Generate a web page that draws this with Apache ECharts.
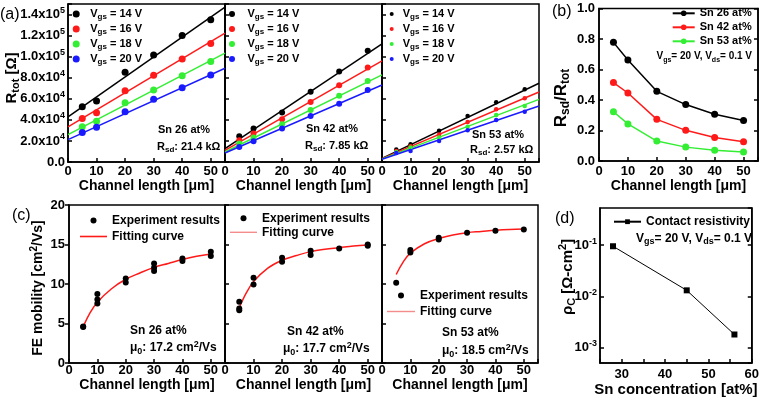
<!DOCTYPE html>
<html><head><meta charset="utf-8">
<script src="https://cdn.jsdelivr.net/npm/echarts@6/dist/echarts.min.js"></script>
<style>html,body{margin:0;padding:0;background:#fff}#c{width:762px;height:404px}</style>
</head><body><div id="c"></div>
<script>
// ---------- data ----------
const channelL = [5, 10, 20, 30, 40, 50];
const vgsNames = ['Vgs = 14 V', 'Vgs = 16 V', 'Vgs = 18 V', 'Vgs = 20 V'];
// (a) R_tot [Ohm]
const rSn26_14 = [52500, 57900, 85200, 101700, 120200, 135100];
const rSn26_16 = [41300, 46700, 67700, 82400, 97900, 112600];
const rSn26_18 = [33400, 38800, 56300, 68400, 82000, 95400];
const rSn26_20 = [28000, 33100, 47700, 59500, 70600, 82700];
const rSn42_14 = [24500, 31800, 47100, 66800, 85800, 105600];
const rSn42_16 = [20700, 27000, 40700, 56900, 72800, 89700];
const rSn42_18 = [17500, 23200, 35900, 49300, 63000, 77000];
const rSn42_20 = [14300, 19700, 31800, 43600, 55300, 68400];
const rSn53_14 = [11800, 16900, 29600, 43600, 56700, 69100];
const rSn53_16 = [10500, 15000, 26100, 37900, 50000, 60500];
const rSn53_18 = [9500, 13700, 23300, 33400, 44600, 53200];
const rSn53_20 = [8600, 10500, 20000, 30200, 39800, 47700];
// linear fits, values at L = 0 and L = 55
const fitEndL = [0, 55];
const fitSn26_14 = [42900, 147000];
const fitSn26_16 = [33400, 122400];
const fitSn26_18 = [26000, 103300];
const fitSn26_20 = [21300, 89000];
const fitSn42_14 = [12700, 112200];
const fitSn42_16 = [11100, 96000];
const fitSn42_18 = [9500, 82700];
const fitSn42_20 = [8600, 73100];
const fitSn53_14 = [3500, 74800];
const fitSn53_16 = [3200, 66500];
const fitSn53_18 = [3000, 59500];
const fitSn53_20 = [2600, 53200];
// (b) Rsd/Rtot
const snNames = ['Sn 26 at%', 'Sn 42 at%', 'Sn 53 at%'];
const ratioSn26 = [0.778, 0.662, 0.457, 0.370, 0.307, 0.266];
const ratioSn42 = [0.514, 0.446, 0.273, 0.201, 0.154, 0.127];
const ratioSn53 = [0.323, 0.243, 0.131, 0.091, 0.070, 0.059];
// (c) FE mobility
const mobL26 = [5, 5, 10, 10, 10, 20, 20, 30, 30, 30, 40, 40, 50, 50];
const mob26 = [4.57, 4.62, 8.75, 8.03, 7.53, 10.7, 10.19, 12.6, 12.05, 11.63, 13.23, 12.9, 14.08, 13.53];
const mobL42 = [5, 5, 5, 10, 10, 20, 20, 30, 30, 40, 50, 50];
const mob42 = [7.74, 6.89, 6.68, 10.78, 9.94, 13.32, 12.81, 14.2, 13.66, 14.5, 15.0, 14.84];
const mobL53 = [5, 10, 10, 20, 20, 30, 40, 50];
const mob53 = [10.15, 14.29, 14.0, 15.86, 15.64, 16.49, 16.74, 16.91];
const curveL = [5, 7.5, 10, 15, 20, 25, 30, 35, 40, 45, 50];
const curve26 = [4.6, 6.4, 7.7, 9.4, 10.6, 11.4, 12.1, 12.6, 13.1, 13.5, 13.8];
const curve42 = [7.0, 8.9, 10.3, 12.0, 13.0, 13.6, 14.1, 14.4, 14.6, 14.8, 14.95];
const curve53 = [11.2, 12.8, 13.9, 15.1, 15.75, 16.2, 16.5, 16.65, 16.8, 16.9, 16.95];
// (d) contact resistivity
const snConc = [28, 45, 56];
const rhoC = [0.095, 0.0131, 0.0018];

// ---------- styling helpers ----------
const FONT = "'Liberation Sans', Arial, Helvetica, sans-serif";
const BLACK = '#000';
const vColors = ['#000000', '#ff1a1a', '#33ee33', '#1a1aff'];
const snColors = ['#000000', '#ff1a1a', '#33ee33'];
function rich(base) {
  const s = Math.round(base * 0.72);
  return {
    sub: {fontFamily: FONT, fontWeight: 'bold', fontSize: s, lineHeight: s, verticalAlign: 'bottom', color: BLACK, fill: BLACK},
    sup: {fontFamily: FONT, fontWeight: 'bold', fontSize: s, lineHeight: s, verticalAlign: 'top', color: BLACK, fill: BLACK}
  };
}
const grids = [
  {left: 68, top: 4, width: 157, height: 158},
  {left: 225, top: 4, width: 157, height: 158},
  {left: 382, top: 4, width: 157, height: 158},
  {left: 599, top: 3, width: 159, height: 158},
  {left: 69, top: 205, width: 156, height: 158},
  {left: 225, top: 205, width: 157, height: 158},
  {left: 382, top: 205, width: 156, height: 158},
  {left: 600, top: 208, width: 157, height: 155}
].map(g => Object.assign({show: true, borderColor: BLACK, borderWidth: 1.5, backgroundColor: 'transparent'}, g));

const lineCommon = {color: BLACK, width: 1.5};
function xLabel(margin) {
  return {show: true, color: BLACK, fontFamily: FONT, fontWeight: 'bold', fontSize: 13, margin: margin,
    formatter: v => (v % 10 === 0 ? String(v) : '')};
}
function xAx(gi, o) {
  return Object.assign({
    type: 'value', gridIndex: gi, min: 0, max: 55, interval: 10,
    axisLine: {show: true, onZero: false, lineStyle: lineCommon},
    axisTick: {show: true, inside: true, length: 4, lineStyle: lineCommon},
    axisLabel: xLabel(3),
    splitLine: {show: false},
    name: 'Channel length [μm]', nameLocation: 'middle', nameGap: 16,
    nameTextStyle: {color: BLACK, fontFamily: FONT, fontWeight: 'bold', fontSize: 14}
  }, o);
}
function yAx(gi, o, lbl) {
  return Object.assign({
    type: 'value', gridIndex: gi,
    axisLine: {show: true, onZero: false, lineStyle: lineCommon},
    axisTick: {show: true, inside: true, length: 4, lineStyle: lineCommon},
    axisLabel: Object.assign({show: true, color: BLACK, fontFamily: FONT, fontWeight: 'bold', fontSize: 13, margin: 3,
      lineHeight: 17, rich: rich(13)}, lbl || {}),
    splitLine: {show: false}
  }, o);
}
const fmtA = v => {
  if (v === 0) return '0.0';
  if (v % 20000 !== 0) return '';
  const e = Math.floor(Math.log10(v) + 1e-9);
  return (v / Math.pow(10, e)).toFixed(1) + 'x10{sup|' + e + '}';
};
const xAxes = [
  xAx(0), xAx(1), xAx(2),
  xAx(3, {axisLabel: xLabel(4), nameGap: 17}),
  xAx(4, {axisLabel: xLabel(1), nameGap: 15}),
  xAx(5, {axisLabel: xLabel(1), nameGap: 15}),
  xAx(6, {axisLabel: xLabel(1), nameGap: 15}),
  xAx(7, {min: 25, max: 60, interval: 5, name: 'Sn concentration [at%]', nameGap: 16,
    nameTextStyle: {color: BLACK, fontFamily: FONT, fontWeight: 'bold', fontSize: 15},
    axisLabel: xLabel(5)})
];

const yAxes = [
  yAx(0, {min: 0, max: 150000, interval: 20000}, {formatter: fmtA}),
  yAx(1, {min: 0, max: 150000, interval: 20000}, {show: false}),
  yAx(2, {min: 0, max: 150000, interval: 20000}, {show: false}),
  yAx(3, {min: 0, max: 1, interval: 0.2}, {margin: 4, formatter: v => v.toFixed(1)}),
  yAx(4, {min: 0, max: 20, interval: 5}, {margin: 4}),
  yAx(5, {min: 0, max: 20, interval: 5}, {show: false}),
  yAx(6, {min: 0, max: 20, interval: 5}, {show: false}),
  yAx(7, {type: 'log', logBase: 10, min: 0.0005, max: 0.53}, {showMinLabel: false, showMaxLabel: false,
    formatter: v => '10{sup|' + Math.round(Math.log10(v)) + '}'}),
  yAx(3, {min: 0, max: 1, interval: 0.2, position: 'right'}, {show: false}),
  yAx(7, {type: 'log', logBase: 10, min: 0.0005, max: 0.53, position: 'right'}, {show: false})
];
yAxes[4].axisTick = {show: true, inside: false, length: 4, lineStyle: lineCommon};

// ---------- series ----------
const series = [];
function panelA(gi, pts, fits, size) {
  pts.forEach((arr, i) => {
    series.push({type: 'line', name: 'fit' + gi + '_' + i, xAxisIndex: gi, yAxisIndex: gi, symbol: 'none',
      data: fitEndL.map((l, j) => [l, fits[i][j]]), lineStyle: {color: vColors[i], width: 1.5}, itemStyle: {color: vColors[i]}, z: 2, silent: true});
    series.push({type: 'scatter', name: vgsNames[i], xAxisIndex: gi, yAxisIndex: gi, symbol: 'circle', symbolSize: size,
      data: channelL.map((l, j) => [l, arr[j]]), itemStyle: {color: vColors[i], opacity: 1}, z: 3});
  });
}
panelA(0, [rSn26_14, rSn26_16, rSn26_18, rSn26_20], [fitSn26_14, fitSn26_16, fitSn26_18, fitSn26_20], 7);
panelA(1, [rSn42_14, rSn42_16, rSn42_18, rSn42_20], [fitSn42_14, fitSn42_16, fitSn42_18, fitSn42_20], 6);
panelA(2, [rSn53_14, rSn53_16, rSn53_18, rSn53_20], [fitSn53_14, fitSn53_16, fitSn53_18, fitSn53_20], 4.5);

[ratioSn26, ratioSn42, ratioSn53].forEach((arr, i) => {
  series.push({type: 'line', name: snNames[i], xAxisIndex: 3, yAxisIndex: 3, symbol: 'circle', symbolSize: 7, showSymbol: true,
    data: channelL.map((l, j) => [l, arr[j]]), lineStyle: {color: snColors[i], width: 1.5}, itemStyle: {color: snColors[i]}});
});

function panelC(gi, xs, ys, cy) {
  series.push({type: 'line', name: 'Fitting curve', xAxisIndex: gi, yAxisIndex: gi, symbol: 'none', smooth: 0.4,
    data: curveL.map((l, j) => [l, cy[j]]), lineStyle: {color: '#ff1a1a', width: 1.5}, itemStyle: {color: '#ff1a1a'}, z: 2});
  series.push({type: 'scatter', name: 'Experiment results', xAxisIndex: gi, yAxisIndex: gi, symbol: 'circle', symbolSize: 6,
    data: xs.map((l, j) => [l, ys[j]]), itemStyle: {color: BLACK, opacity: 1}, z: 3});
}
panelC(4, mobL26, mob26, curve26);
panelC(5, mobL42, mob42, curve42);
panelC(6, mobL53, mob53, curve53);

series.push({type: 'line', name: 'Contact resistivity', xAxisIndex: 7, yAxisIndex: 7, symbol: 'rect', symbolSize: 6,
  data: snConc.map((c, j) => [c, rhoC[j]]), lineStyle: {color: BLACK, width: 1}, itemStyle: {color: BLACK}});

// ---------- legends ----------
function lg(o, fs, lh) {
  return Object.assign({orient: 'vertical', selectedMode: false, padding: 0, itemGap: 0,
    textStyle: {color: BLACK, fontFamily: FONT, fontWeight: 'bold', fontSize: fs, lineHeight: lh, rich: rich(fs)}}, o);
}
const vgsFmt = n => n.replace('Vgs', 'V{sub|gs}');
function fitItem(color, w, thick) {
  return {name: 'Fitting curve', icon: 'path://M0,0L' + w + ',0L' + w + ',' + thick + 'L0,' + thick + 'Z',
    itemStyle: {color: color, borderWidth: 0}};
}
const legends = [
  lg({left: 72.7, top: 7, itemWidth: 18, itemHeight: 7, itemGap: 1, icon: 'circle', data: vgsNames, formatter: vgsFmt}, 11, 14),
  lg({left: 229, top: 7, itemWidth: 21, itemHeight: 6, itemGap: 1, icon: 'circle', data: vgsNames, formatter: vgsFmt}, 11, 14),
  lg({left: 389.7, top: 7, itemWidth: 12, itemHeight: 4, itemGap: 1, icon: 'circle', data: vgsNames, formatter: vgsFmt}, 11, 14),
  lg({left: 671.7, top: 6.3, itemWidth: 22, itemHeight: 7, data: snNames}, 11, 14),
  lg({left: 80, top: 213, itemWidth: 27, itemHeight: 6, itemGap: 1, symbolKeepAspect: true,
    data: [{name: 'Experiment results', icon: 'circle'}, fitItem('#ff1a1a', 27, 1.6)]}, 12, 15),
  lg({left: 230, top: 211.3, itemWidth: 27, itemHeight: 6, symbolKeepAspect: true,
    data: [{name: 'Experiment results', icon: 'circle'}, fitItem('#f58c8c', 27, 1.4)]}, 12, 14),
  lg({left: 387, top: 288, itemWidth: 28, itemHeight: 6, itemGap: 1, symbolKeepAspect: true,
    data: [{name: 'Experiment results', icon: 'circle'}, fitItem('#f58c8c', 28, 1.4)]}, 12, 15),
  lg({left: 613, top: 214.7, itemWidth: 27, itemHeight: 6, data: ['Contact resistivity']}, 12, 14)
];

// ---------- text annotations ----------
function txt(x, y, text, fs, align, extra) {
  return Object.assign({type: 'text', x: x, y: y, silent: true,
    style: {text: text, fill: BLACK, fontFamily: FONT, fontWeight: 'bold', fontSize: fs, lineHeight: Math.round(fs * 1.3),
      align: align || 'left', verticalAlign: 'middle', rich: rich(fs)}}, extra || {});
}
function lbl(x, y, text) {
  return {type: 'text', x: x, y: y, silent: true,
    style: {text: text, fill: BLACK, fontFamily: FONT, fontWeight: 'normal', fontSize: 16, align: 'left', verticalAlign: 'middle'}};
}
const graphics = [
  lbl(0, 15, '(a)'), lbl(552, 12, '(b)'), lbl(12, 216, '(c)'), lbl(555, 219, '(d)'),
  txt(158, 130, 'Sn 26 at%', 11), txt(157, 146.5, 'R{sub|sd}: 21.4 kΩ', 11),
  txt(306, 129, 'Sn 42 at%', 11), txt(305, 146, 'R{sub|sd}: 7.85 kΩ', 11),
  txt(472, 135, 'Sn 53 at%', 11), txt(470, 150, 'R{sub|sd}: 2.57 kΩ', 11),
  txt(130, 331, 'Sn 26 at%', 12), txt(130, 347.7, 'μ{sub|0}: 17.2 cm{sup|2}/Vs', 12),
  txt(287, 332, 'Sn 42 at%', 12), txt(283, 349, 'μ{sub|0}: 17.7 cm{sup|2}/Vs', 12),
  txt(442, 333, 'Sn 53 at%', 12), txt(442, 351, 'μ{sub|0}: 18.5 cm{sup|2}/Vs', 12),
  txt(752, 56.7, 'V{sub|gs}= 20 V, V{sub|ds}= 0.1 V', 10, 'right'),
  txt(752, 238.3, 'V{sub|gs}= 20 V, V{sub|ds}= 0.1 V', 12, 'right'),
  txt(11.5, 78, 'R{sub|tot} [Ω]', 15, 'center', {rotation: Math.PI / 2}),
  txt(561, 98, 'R{sub|sd}/R{sub|tot}', 17, 'center', {rotation: Math.PI / 2}),
  txt(38, 288, 'FE mobility [cm{sup|2}/Vs]', 14, 'center', {rotation: Math.PI / 2}),
  txt(567.5, 277, 'ρ{sub|C} [Ω-cm{sup|2}]', 15, 'center', {rotation: Math.PI / 2})
];

const chart = echarts.init(document.getElementById('c'), null, {renderer: 'canvas'});
chart.setOption({
  backgroundColor: '#fff',
  animation: false,
  grid: grids,
  xAxis: xAxes,
  yAxis: yAxes,
  legend: legends,
  series: series,
  graphic: graphics
});
</script>
</body></html>
